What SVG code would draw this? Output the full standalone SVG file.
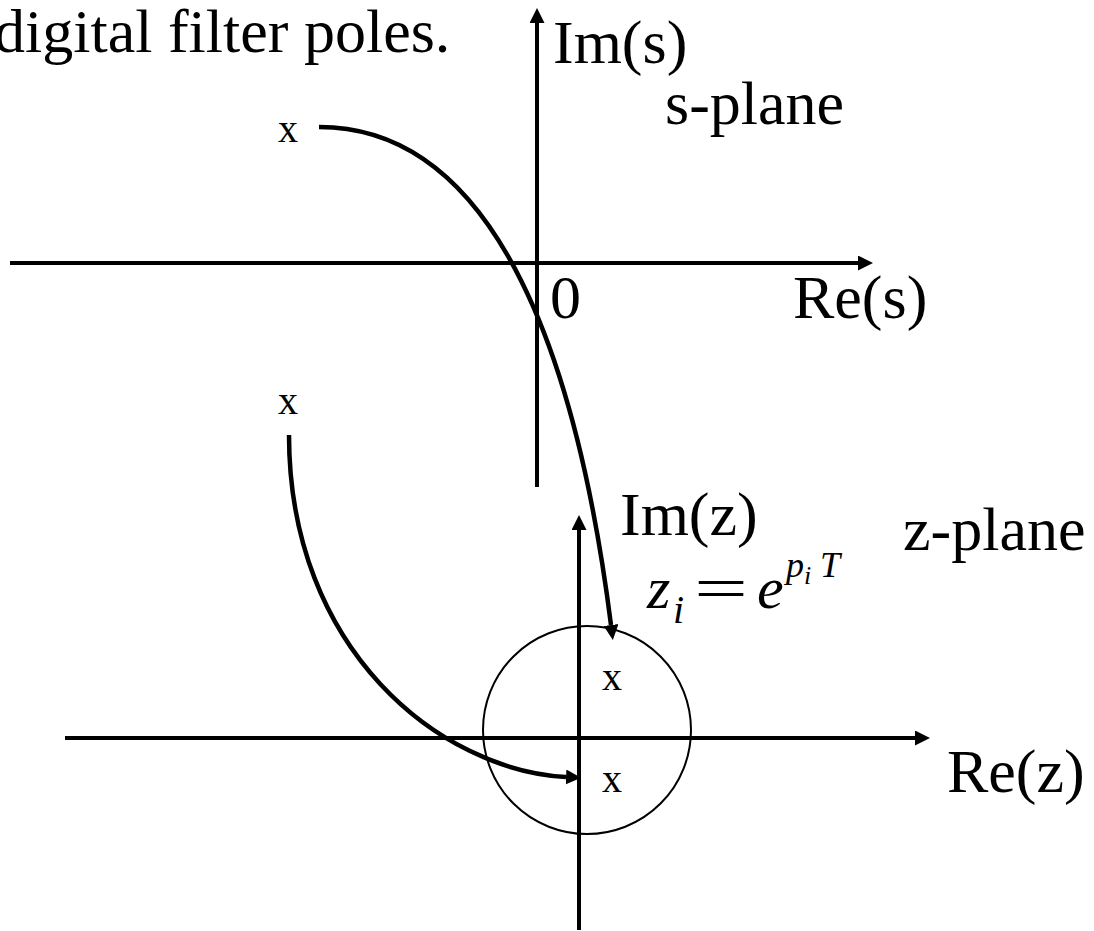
<svg xmlns="http://www.w3.org/2000/svg" width="1094" height="931" viewBox="0 0 1094 931">
<defs>
<style>
.t{font-family:"Liberation Serif","Times New Roman",serif;fill:#000}
.big{font-size:62px}
.sm{font-size:40px}
.it{font-style:italic}
.ax{stroke:#000;stroke-width:4;fill:none}
.cv{stroke:#000;stroke-width:4.5;fill:none}
</style>
<marker id="ah" markerUnits="userSpaceOnUse" viewBox="0 0 15 15" markerWidth="15" markerHeight="15" refX="0" refY="7.5" orient="auto">
<path d="M0,0 L15,7.5 L0,15 z" fill="#000"/>
</marker>
</defs>
<rect width="1094" height="931" fill="#fff"/>
<text id="title" class="t big" x="-6" y="52">digital filter poles.</text>
<g id="s-plane">
<line class="ax" x1="10" y1="263" x2="858" y2="263" marker-end="url(#ah)"/>
<line class="ax" x1="537" y1="487" x2="537" y2="23" marker-end="url(#ah)"/>
<text class="t big" x="553" y="63">Im(s)</text>
<text class="t big" x="665" y="124">s-plane</text>
<text class="t big" x="550" y="318">0</text>
<text class="t big" x="793" y="318">Re(s)</text>
<text id="pole-s1" class="t sm" x="278" y="142">x</text>
<text id="pole-s2" class="t sm" x="278" y="414">x</text>
</g>
<g id="z-plane">
<line class="ax" x1="65" y1="738" x2="915" y2="738" marker-end="url(#ah)"/>
<line class="ax" x1="579" y1="930" x2="579" y2="530" marker-end="url(#ah)"/>
<circle cx="587" cy="730" r="104" fill="none" stroke="#000" stroke-width="2"/>
<text class="t big" x="620" y="535">Im(z)</text>
<text class="t big" x="903" y="550">z-plane</text>
<text class="t big" x="947" y="792">Re(z)</text>
<text id="pole-z1" class="t sm" x="602" y="690">x</text>
<text id="pole-z2" class="t sm" x="602" y="792">x</text>
</g>
<g id="formula">
<text class="t it" font-size="60" x="647" y="608">z</text>
<text class="t it" font-size="40" x="673" y="623">i</text>
<text class="t" font-size="60" x="694" y="608" textLength="54" lengthAdjust="spacingAndGlyphs">=</text>
<text class="t it" font-size="60" x="757" y="608">e</text>
<text class="t it" font-size="36" x="786" y="577">p</text>
<text class="t it" font-size="26" x="804" y="584">i</text>
<text class="t it" font-size="36" x="820" y="577">T</text>
</g>
<g id="connectors">
<path class="cv" d="M319,127 C489,127 574.8,340 611,625" marker-end="url(#ah)"/>
<path class="cv" d="M289,435 C289,650 440,770 566,777" marker-end="url(#ah)"/>
</g>
</svg>
